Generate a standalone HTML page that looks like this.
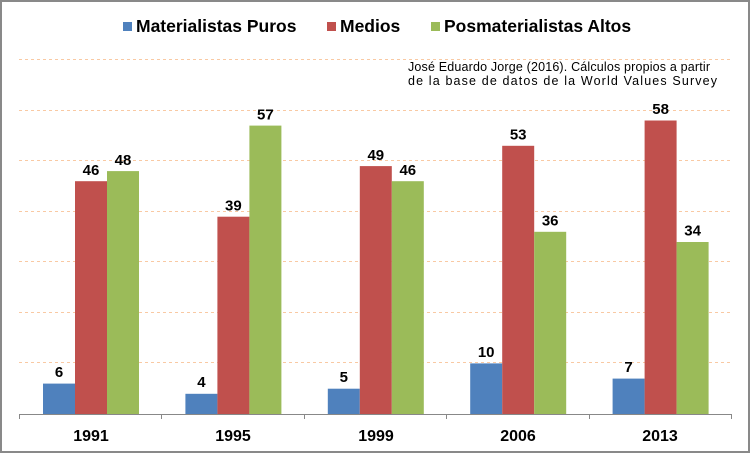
<!DOCTYPE html>
<html><head><meta charset="utf-8"><style>
html,body{margin:0;padding:0;background:#fff}
svg{display:block;font-family:"Liberation Sans",Arial,sans-serif}
</style></head><body>
<svg width="750" height="453" viewBox="0 0 750 453">
<rect x="1" y="1" width="748" height="451" fill="#fff" stroke="#898989" stroke-width="2"/>
<g stroke="#f9c9a3" stroke-width="1" stroke-dasharray="3,3">
<line x1="19" x2="731" y1="59.5" y2="59.5"/>
<line x1="19" x2="731" y1="110.5" y2="110.5"/>
<line x1="19" x2="731" y1="160.5" y2="160.5"/>
<line x1="19" x2="731" y1="211.5" y2="211.5"/>
<line x1="19" x2="731" y1="261.5" y2="261.5"/>
<line x1="19" x2="731" y1="312.5" y2="312.5"/>
<line x1="19" x2="731" y1="362.5" y2="362.5"/>
</g>
<g>
<rect x="43" y="383.6" width="32" height="30.4" fill="#4f81bd"/>
<rect x="75" y="181.2" width="32" height="232.8" fill="#c0504d"/>
<rect x="107" y="171.1" width="32" height="242.9" fill="#9bbb59"/>
<rect x="185.4" y="393.8" width="32" height="20.2" fill="#4f81bd"/>
<rect x="217.4" y="216.7" width="32" height="197.3" fill="#c0504d"/>
<rect x="249.4" y="125.6" width="32" height="288.4" fill="#9bbb59"/>
<rect x="327.8" y="388.7" width="32" height="25.3" fill="#4f81bd"/>
<rect x="359.8" y="166.1" width="32" height="247.9" fill="#c0504d"/>
<rect x="391.8" y="181.2" width="32" height="232.8" fill="#9bbb59"/>
<rect x="470.2" y="363.4" width="32" height="50.6" fill="#4f81bd"/>
<rect x="502.2" y="145.8" width="32" height="268.2" fill="#c0504d"/>
<rect x="534.2" y="231.8" width="32" height="182.2" fill="#9bbb59"/>
<rect x="612.6" y="378.6" width="32" height="35.4" fill="#4f81bd"/>
<rect x="644.6" y="120.5" width="32" height="293.5" fill="#c0504d"/>
<rect x="676.6" y="242.0" width="32" height="172.0" fill="#9bbb59"/>
</g>
<g font-size="15" font-weight="bold" text-anchor="middle" fill="#000">
<text x="59" y="377">6</text>
<text x="91" y="175">46</text>
<text x="123" y="165">48</text>
<text x="201.4" y="387">4</text>
<text x="233.4" y="210.5">39</text>
<text x="265.4" y="119.5">57</text>
<text x="343.8" y="382">5</text>
<text x="375.8" y="160">49</text>
<text x="407.8" y="175">46</text>
<text x="486.2" y="357">10</text>
<text x="518.2" y="139.5">53</text>
<text x="550.2" y="225.5">36</text>
<text x="628.6" y="372">7</text>
<text x="660.6" y="114">58</text>
<text x="692.6" y="235.5">34</text>
</g>
<line x1="19" x2="731" y1="414.5" y2="414.5" stroke="#888"/>
<g stroke="#888">
<line x1="19.5" x2="19.5" y1="414" y2="419"/>
<line x1="161.5" x2="161.5" y1="414" y2="419"/>
<line x1="304.5" x2="304.5" y1="414" y2="419"/>
<line x1="446.5" x2="446.5" y1="414" y2="419"/>
<line x1="589.5" x2="589.5" y1="414" y2="419"/>
<line x1="731.5" x2="731.5" y1="414" y2="419"/>
</g>
<g font-size="16" font-weight="bold" text-anchor="middle" fill="#000">
<text x="91" y="441">1991</text>
<text x="233" y="441">1995</text>
<text x="376" y="441">1999</text>
<text x="518" y="441">2006</text>
<text x="660" y="441">2013</text>
</g>
<g font-size="17.5" font-weight="bold" fill="#000">
<rect x="123" y="22" width="9" height="9" fill="#4f81bd"/>
<text x="136" y="32">Materialistas Puros</text>
<rect x="327" y="22" width="9" height="9" fill="#c0504d"/>
<text x="340" y="32">Medios</text>
<rect x="431" y="22" width="9" height="9" fill="#9bbb59"/>
<text x="444" y="32">Posmaterialistas Altos</text>
</g>
<g font-size="12.5" fill="#000">
<text x="408" y="71" textLength="302" lengthAdjust="spacing">José Eduardo Jorge (2016). Cálculos propios a partir</text>
<text x="408" y="85" textLength="309" lengthAdjust="spacing">de la base de datos de la World Values Survey</text>
</g>
</svg>
</body></html>
